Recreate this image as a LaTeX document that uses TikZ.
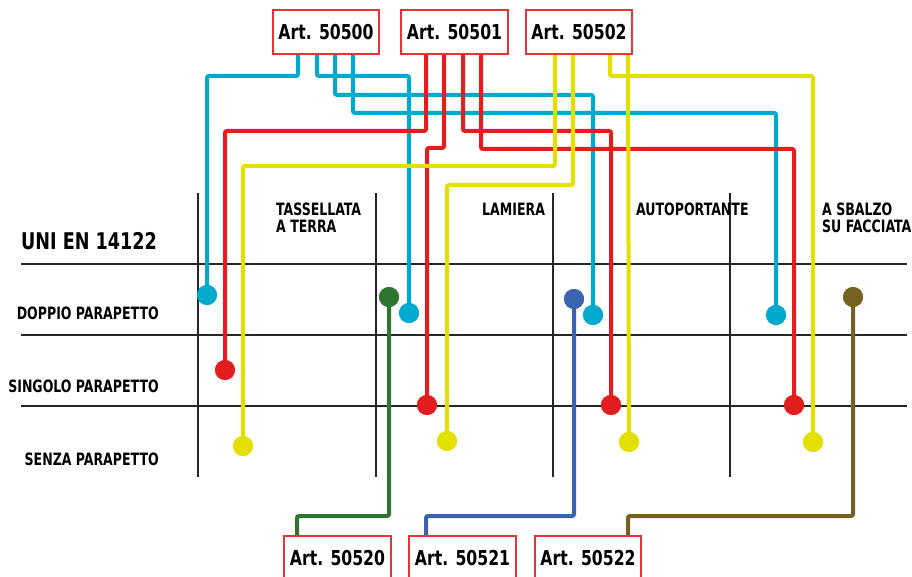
\documentclass[tikz,border=0pt]{standalone}
\usepackage{fontspec}
\newfontfamily\dinf{DejaVu Sans Condensed Bold}[FakeStretch=0.85]
\newfontfamily\dinfs{DejaVu Sans Condensed Bold}[FakeStretch=0.82]
\definecolor{wcyan}{HTML}{00A9CE}
\definecolor{wred}{HTML}{E41E1E}
\definecolor{wyel}{HTML}{E3E000}
\definecolor{wgreen}{HTML}{2E7532}
\definecolor{wblue}{HTML}{3A64AE}
\definecolor{wolive}{HTML}{74621E}
\definecolor{boxred}{HTML}{E53535}
\begin{document}
\begin{tikzpicture}[x=1pt,y=-1pt,
  wire/.style={line width=4pt, rounded corners=2pt},
  dotc/.style={circle, fill=#1, inner sep=0pt, minimum size=20pt},
  artbox/.style={draw=boxred, line width=1.5pt, fill=white, minimum width=106pt, minimum height=44pt, inner sep=0pt, font=\dinf\fontsize{20.5}{20.5}\selectfont},
  lbl/.style={inner sep=0pt, font=\dinfs\fontsize{17}{17}\selectfont},
  biglbl/.style={inner sep=0pt, font=\dinf\fontsize{23}{23}\selectfont},
  gridline/.style={line width=1.2pt, draw=black!85}]
\useasboundingbox (0,0) rectangle (912,577);

% grid
\coordinate (gl1) at (21,264); \coordinate (gr1) at (907,264);
\coordinate (gl2) at (21,335); \coordinate (gr2) at (907,335);
\coordinate (gl3) at (21,406); \coordinate (gr3) at (907,406);
\draw[gridline] (gl1) -- (gr1);
\draw[gridline] (gl2) -- (gr2);
\draw[gridline] (gl3) -- (gr3);
\foreach \x/\n in {198/v1,376/v2,553/v3,730/v4}{
  \coordinate (\n t) at (\x,193); \coordinate (\n b) at (\x,477);
  \draw[gridline] (\n t) -- (\n b);
}

% labels
\node[biglbl, anchor=base west] (uni) at (21,249) {UNI EN 14122};
\node[lbl, anchor=base east] (dop) at (159,319) {DOPPIO PARAPETTO};
\node[lbl, anchor=base east] (sin) at (159,392) {SINGOLO PARAPETTO};
\node[lbl, anchor=base east] (sen) at (159,465) {SENZA PARAPETTO};
\node[lbl, anchor=base west] (h1a) at (276,216) {TASSELLATA};
\node[lbl, anchor=base west] (h1b) at (276,233) {A TERRA};
\node[lbl, anchor=base west] (h2) at (482,216) {LAMIERA};
\node[lbl, anchor=base west] (h3) at (636,216) {AUTOPORTANTE};
\node[lbl, anchor=base west] (h4a) at (822,216) {A SBALZO};
\node[lbl, anchor=base west] (h4b) at (822,233) {SU FACCIATA};

% end dots
\node[dotc=wcyan] (c1) at (207,295) {};
\node[dotc=wcyan] (c2) at (409,313) {};
\node[dotc=wcyan] (c3) at (593,315) {};
\node[dotc=wcyan] (c4) at (776,315) {};
\node[dotc=wred] (r1) at (225,370) {};
\node[dotc=wred] (r2) at (427,405) {};
\node[dotc=wred] (r3) at (611,405) {};
\node[dotc=wred] (r4) at (794,405) {};
\node[dotc=wyel] (y1) at (243,446) {};
\node[dotc=wyel] (y2) at (447,441) {};
\node[dotc=wyel] (y3) at (813,442) {};
\node[dotc=wyel] (y4) at (629,442) {};
\node[dotc=wgreen] (g1) at (389,297) {};
\node[dotc=wblue] (bl1) at (574,299) {};
\node[dotc=wolive] (o1) at (853,297) {};

% start points on top boxes
\coordinate (s1) at (298,54); \coordinate (s2) at (317,54);
\coordinate (s3) at (335,54); \coordinate (s4) at (353,54);
\coordinate (s5) at (426,54); \coordinate (s6) at (444,54);
\coordinate (s7) at (463,54); \coordinate (s8) at (481,54);
\coordinate (s9) at (555,54); \coordinate (s10) at (573,54);
\coordinate (s11) at (610,54); \coordinate (s12) at (628,54);
% end points on bottom boxes
\coordinate (e1) at (297,536); \coordinate (e2) at (426,536); \coordinate (e3) at (628,536);

% cyan wires
\draw[wire, wcyan] (s1) -- ++(0,22) -| (c1.center);
\draw[wire, wcyan] (s2) -- ++(0,22) -| (c2.center);
\draw[wire, wcyan] (s3) -- ++(0,41) -| (c3.center);
\draw[wire, wcyan] (s4) -- ++(0,59) -| (c4.center);
% red wires
\draw[wire, wred] (s5) -- ++(0,77) -| (r1.center);
\draw[wire, wred] (s6) -- ++(0,94) -| (r2.center);
\draw[wire, wred] (s7) -- ++(0,77) -| (r3.center);
\draw[wire, wred] (s8) -- ++(0,95) -| (r4.center);
% yellow wires
\draw[wire, wyel] (s9) -- ++(0,112) -| (y1.center);
\draw[wire, wyel] (s10) -- ++(0,131) -| (y2.center);
\draw[wire, wyel] (s11) -- ++(0,22) -| (y3.center);
\draw[wire, wyel] (s12) -- (y4.center);
% bottom wires
\draw[wire, wgreen] (g1.center) -- ++(0,219) -| (e1);
\draw[wire, wblue] (bl1.center) -- ++(0,217) -| (e2);
\draw[wire, wolive] (o1.center) -- ++(0,219) -| (e3);

% redraw dots on top
\foreach \d/\c in {c1/wcyan,c2/wcyan,c3/wcyan,c4/wcyan,r1/wred,r2/wred,r3/wred,r4/wred,y1/wyel,y2/wyel,y3/wyel,y4/wyel,g1/wgreen,bl1/wblue,o1/wolive}{
  \fill[\c] (\d.center) circle[radius=10pt];
}

% boxes
\node[artbox, minimum width=106pt] (t1) at (326,32) {Art. 50500};
\node[artbox, minimum width=107pt] (t2) at (454.5,32) {Art. 50501};
\node[artbox, minimum width=106pt] (t3) at (579,32) {Art. 50502};
\node[artbox, minimum width=107pt] (b1) at (337.5,558) {Art. 50520};
\node[artbox, minimum width=107pt] (b2) at (462.5,558) {Art. 50521};
\node[artbox, minimum width=106pt] (b3) at (588,558) {Art. 50522};
\end{tikzpicture}
\end{document}
